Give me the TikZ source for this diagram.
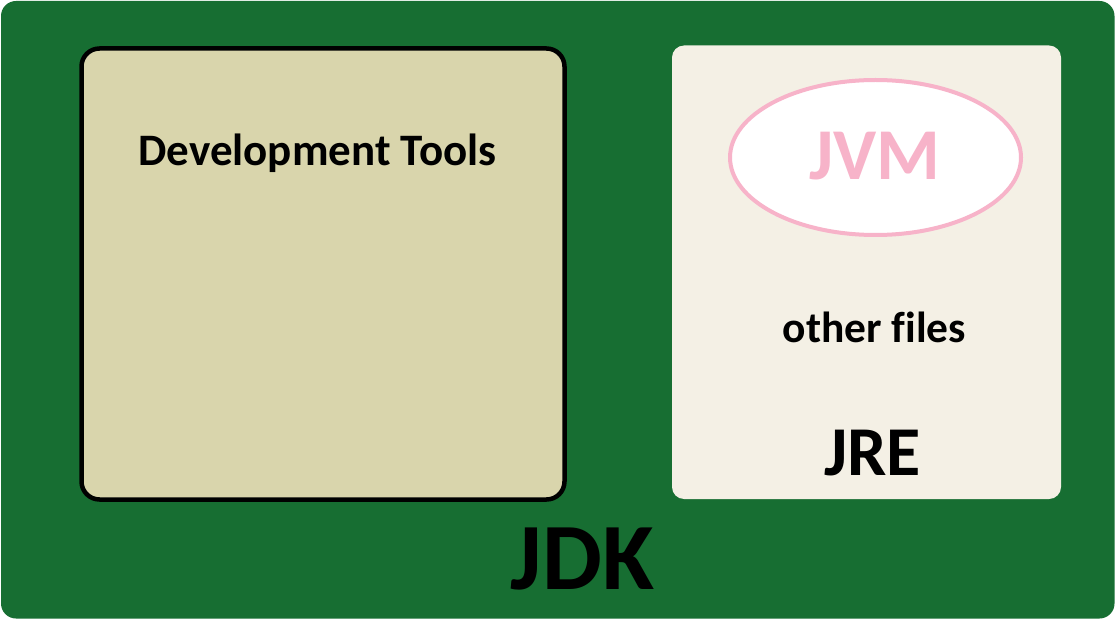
\documentclass[tikz,border=0pt]{standalone}
\usepackage{fontspec}
\setmainfont{Carlito}[Ligatures=CommonOff]
\usetikzlibrary{shapes.geometric}
\definecolor{jdkgreen}{RGB}{23,110,50}
\definecolor{devfill}{RGB}{217,213,172}
\definecolor{jrefill}{RGB}{244,240,229}
\definecolor{jvmpink}{RGB}{247,179,201}
\tikzset{
  txt/.style={anchor=base, inner sep=0pt, font=\bfseries},
}
\begin{document}
\begin{tikzpicture}[x=1pt,y=-1pt]
\useasboundingbox (0,0) rectangle (1116,620);
\fill[white] (0,0) rectangle (1116,620);
% JDK outer
\fill[jdkgreen, rounded corners=15pt] (1,1) rectangle (1114.5,618.5);
% Development tools box
\draw[fill=devfill, draw=black, line width=4.5pt, rounded corners=18pt] (81.5,48.5) rectangle (564.5,499.5);
% JRE box
\fill[jrefill, rounded corners=12pt] (672,45.5) rectangle (1061,499);
% JVM ellipse
\node[ellipse, draw=jvmpink, fill=white, line width=4pt, minimum width=291pt, minimum height=155pt, inner sep=0pt] (jvm) at (875.5,157.5) {};
\node[txt, text=jvmpink, font=\bfseries\fontsize{73}{73}\selectfont] (jvmtxt) at (875,180) {JVM};
\node[txt, font=\bfseries\fontsize{45}{45}\selectfont] (dev) at (317.5,166) {Development Tools};
\node[txt, font=\bfseries\fontsize{43.5}{43.5}\selectfont] (other) at (874.5,342) {other files};
\node[txt, font=\bfseries\fontsize{70}{70}\selectfont] (jre) at (872.5,475) {JRE};
\node[txt, font=\bfseries\fontsize{95}{95}\selectfont] (jdk) at (582.5,589) {JDK};
\end{tikzpicture}
\end{document}
